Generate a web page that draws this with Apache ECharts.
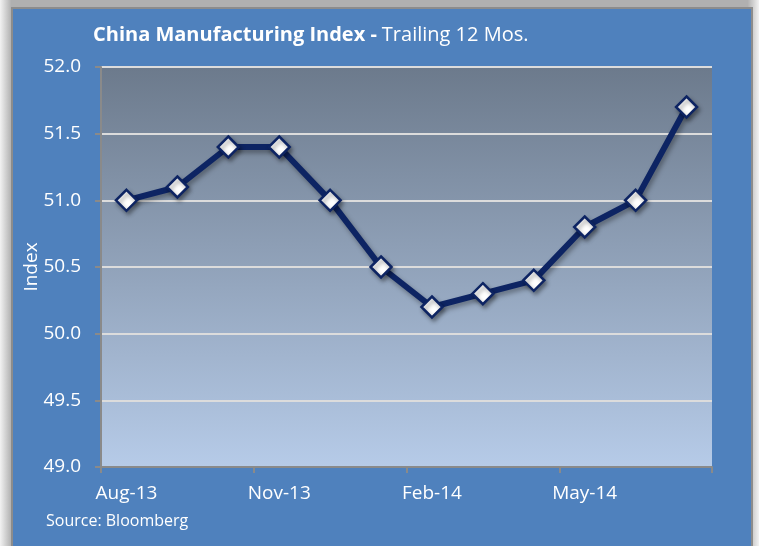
<!DOCTYPE html>
<html>
<head>
<meta charset="utf-8">
<script src="https://cdn.jsdelivr.net/npm/echarts@6/dist/echarts.min.js"></script>
<style>
html, body { margin: 0; padding: 0; background: #dcdcdc; }
#chart { width: 759px; height: 546px; }
</style>
</head>
<body>
<div id="chart"></div>
<script>
var months = ['Aug-13', 'Sep-13', 'Oct-13', 'Nov-13', 'Dec-13', 'Jan-14',
	'Feb-14', 'Mar-14', 'Apr-14', 'May-14', 'Jun-14', 'Jul-14'];
var indexValues = [51.0, 51.1, 51.4, 51.4, 51.0, 50.5, 50.2, 50.3, 50.4, 50.8, 51.0, 51.7];
var yTicks = [49.0, 49.5, 50.0, 50.5, 51.0, 51.5, 52.0];

var font = 'Open Sans';
var chart = echarts.init(document.getElementById('chart'));

var option = {
	backgroundColor: new echarts.graphic.LinearGradient(0, 0, 1, 0, [
		{ offset: 0, color: '#f2f2f2' },
		{ offset: 0.015, color: '#b0b0b0' },
		{ offset: 0.985, color: '#b0b0b0' },
		{ offset: 1, color: '#f2f2f2' }
	]),
	graphic: [{
		type: 'rect',
		shape: { x: 12, y: 8, width: 740, height: 560 },
		style: { fill: '#4f81bd', stroke: '#8c8c8c', lineWidth: 2 },
		z: -10
	}, {
		type: 'text',
		left: 46,
		top: 513,
		style: { text: 'Source: Bloomberg', fill: '#fff', font: '16px "Open Sans"' }
	}],
	title: {
		text: '{b|China Manufacturing Index -} {r|Trailing 12 Mos.}',
		left: 88,
		top: 20,
		textStyle: {
			rich: {
				b: { fontFamily: font, fontWeight: 'bold', fontSize: 20, color: '#fff' },
				r: { fontFamily: font, fontWeight: 'normal', fontSize: 20, color: '#fff' }
			}
		}
	},
	grid: {
		left: 101,
		right: 47,
		top: 67,
		bottom: 79,
		show: true,
		borderWidth: 0,
		backgroundColor: new echarts.graphic.LinearGradient(0, 0, 0, 1, [
			{ offset: 0, color: '#6c7a8c' },
			{ offset: 1, color: '#b6cbe8' }
		])
	},
	xAxis: {
		type: 'category',
		data: months,
		boundaryGap: true,
		axisLine: { lineStyle: { color: '#8a8a8a', width: 2 } },
		axisTick: { show: true, interval: 2, length: 6, lineStyle: { color: '#8a8a8a', width: 2 } },
		axisLabel: { interval: 2, color: '#fff', fontFamily: font, fontSize: 19, margin: 17 },
		splitLine: { show: false }
	},
	yAxis: {
		type: 'value',
		min: yTicks[0],
		max: yTicks[yTicks.length - 1],
		interval: 0.5,
		name: 'Index',
		nameLocation: 'middle',
		nameGap: 60,
		nameMoveOverlap: false,
		nameTextStyle: { color: '#fff', fontFamily: font, fontSize: 19 },
		axisLine: { show: true, lineStyle: { color: '#8a8a8a', width: 2 } },
		axisTick: { show: true, length: 6, lineStyle: { color: '#8a8a8a', width: 2 } },
		axisLabel: {
			color: '#fff', fontFamily: font, fontSize: 19, margin: 20,
			formatter: function(v) { return v.toFixed(1); }
		},
		splitLine: { show: true, lineStyle: { color: '#dcdcdc', width: 2 } }
	},
	series: [{
		name: 'Index',
		type: 'line',
		data: indexValues,
		symbol: 'diamond',
		symbolSize: 21,
		lineStyle: {
			color: '#0d2463',
			width: 6,
			shadowColor: 'rgba(0,0,0,0.35)',
			shadowBlur: 5,
			shadowOffsetX: 2,
			shadowOffsetY: 3
		},
		itemStyle: {
			color: '#ffffff',
			borderColor: '#0d2463',
			borderWidth: 2.5,
			shadowColor: 'rgba(0,0,0,0.35)',
			shadowBlur: 4,
			shadowOffsetX: 2,
			shadowOffsetY: 3
		},
		emphasis: { disabled: true },
		z: 5
	}],
	animation: false
};
chart.setOption(option);
</script>
</body>
</html>
